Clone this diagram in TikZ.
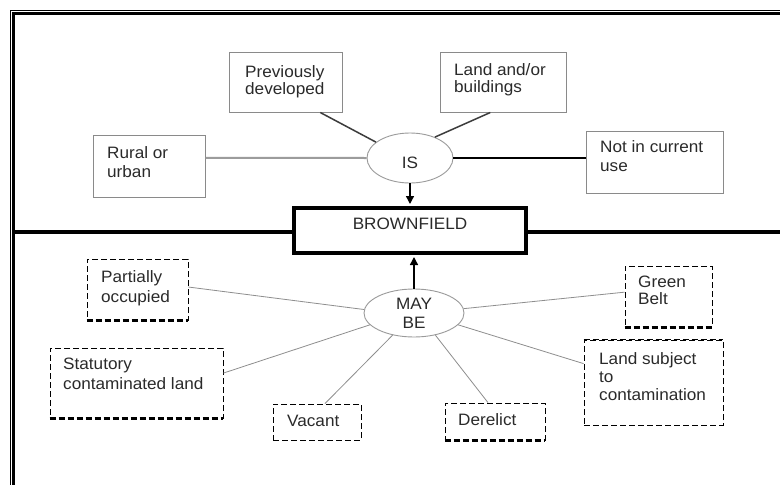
\documentclass[tikz,border=0pt]{standalone}
\usepackage{fontspec}
\setmainfont{Liberation Sans}[FakeStretch=1.04]
\usetikzlibrary{calc,arrows.meta,shapes.geometric}
\definecolor{txtc}{HTML}{2A2A2A}
\definecolor{boxc}{HTML}{8A8A8A}
\definecolor{ellc}{HTML}{9A9A9A}
\definecolor{rurc}{HTML}{9C9C9C}
\definecolor{darkc}{HTML}{3C3C3C}
\definecolor{thinc}{HTML}{8E8E8E}
\begin{document}
\begin{tikzpicture}[x=1pt,y=-1pt,
  txt/.style={anchor=north west, inner sep=0pt, align=left, text=txtc, font=\fontsize{16.5}{#1}\selectfont},
  txt/.default=17,
  solidbox/.style={draw=boxc, line width=1pt, inner sep=0pt},
  dashbox/.style={draw=black, line width=0.9pt, dash pattern=on 6pt off 3pt, inner sep=0pt},
  dashbottom/.style={draw=black, line width=2.4pt, dash pattern=on 6pt off 3pt},
  ellnode/.style={ellipse, draw=ellc, line width=0.9pt, inner sep=0pt, text=txtc},
  rurline/.style={draw=rurc, line width=2pt},
  darkline/.style={draw=darkc, line width=1.5pt},
  blackline/.style={draw=black, line width=1.3pt},
  thinline/.style={draw=thinc, line width=0.8pt},
  arr/.style={draw=black, line width=1.4pt, -{Triangle[length=8pt,width=8pt]}, shorten >=2pt}
]
\useasboundingbox (0,0) rectangle (780,485);
\fill[white] (0,0) rectangle (780,485);

% frame
\draw[line width=0.8pt] (10,485) -- (10,10) -- (780,10);
\draw[line width=2.6pt] (13.3,485) -- (13.3,13.3) -- (780,13.3);

% top boxes
\node[solidbox, minimum width=113pt, minimum height=60pt] (pd) at (285.5,82) {};
\node[txt] (pdt) at (245,65) {Previously\\developed};
\node[solidbox, minimum width=126pt, minimum height=60pt] (lb) at (503,82) {};
\node[txt] (lbt) at (454,63) {Land and/or\\buildings};
\node[solidbox, minimum width=112pt, minimum height=62pt] (ru) at (149,166) {};
\node[txt=19] (rut) at (107,146) {Rural or\\urban};
\node[solidbox, minimum width=137pt, minimum height=62pt] (nc) at (654.5,162) {};
\node[txt=19] (nct) at (600,140) {Not in current\\use};
\node[ellnode, minimum width=86pt, minimum height=50pt, text height=21.5pt, font=\fontsize{16.5}{18}\selectfont] (is) at (410,158) {IS};

% brownfield
\node[draw=black, line width=4pt, minimum width=232pt, minimum height=45pt, inner sep=0pt] (bf) at (410,230.5) {};
\node[anchor=base, inner sep=0pt, text=txtc, font=\fontsize{16.5}{18}\selectfont] (bft) at (410,229) {BROWNFIELD};
\coordinate (ml) at (14,232);
\coordinate (mr) at (780,232);
\draw[line width=4pt] (ml) -- (ml -| bf.west);
\draw[line width=4pt] (mr -| bf.east) -- (mr);

% may be
\node[ellnode, minimum width=100pt, minimum height=48pt, align=center, font=\fontsize{16.5}{19}\selectfont] (may) at (414,313) {MAY\\BE};

% dashed boxes
\node[dashbox, minimum width=101pt, minimum height=61pt] (po) at (137.5,289.5) {};
\draw[dashbottom] (po.south west) -- (po.south east);
\node[txt=20] (pot) at (101,270) {Partially\\occupied};
\node[dashbox, minimum width=173pt, minimum height=70pt] (sc) at (136.5,383) {};
\draw[dashbottom] (sc.south west) -- (sc.south east);
\node[txt=20] (sct) at (63,358) {Statutory\\contaminated land};
\node[dashbox, minimum width=88pt, minimum height=36pt] (va) at (317,422) {};
\node[txt] (vat) at (287,415) {Vacant};
\node[dashbox, minimum width=87pt, minimum height=61pt] (gb) at (668.5,296.5) {};
\draw[dashbottom] (gb.south west) -- (gb.south east);
\node[txt] (gbt) at (638,276) {Green\\Belt};
\node[dashbox, minimum width=139pt, minimum height=85pt] (ls) at (653.5,382.5) {};
\draw[dashbottom, line width=1.4pt] (ls.north west) -- (ls.north east);
\node[txt=18] (lst) at (599,352) {Land subject\\to\\contamination};
\node[dashbox, minimum width=100pt, minimum height=37pt] (de) at (495,421.5) {};
\draw[dashbottom] (de.south west) -- (de.south east);
\node[txt] (det) at (458,413) {Derelict};

% connectors (IS)
\draw[rurline] ($(ru.north east)!0.37!(ru.south east)$) -- (is.west);
\draw[darkline] ($(pd.south west)!0.805!(pd.south east)$) -- (is.155);
\draw[darkline] ($(lb.south west)!0.4!(lb.south east)$) -- (is.40);
\draw[blackline] (is.east) -- (is.east -| nc.west);
\draw[arr] (is.south) -- (bf.north);

% connectors (MAY BE)
\draw[arr] (may.north) -- (may.north |- bf.south);
\draw[thinline] ($(po.north east)!0.46!(po.south east)$) -- (may.176);
\draw[thinline] ($(sc.north east)!0.36!(sc.south east)$) -- (may.195);
\draw[thinline] ($(va.north west)!0.59!(va.north east)$) -- (may.226);
\draw[thinline] ($(de.north west)!0.43!(de.north east)$) -- (may.314);
\draw[thinline] ($(ls.north west)!0.28!(ls.south west)$) -- (may.345);
\draw[thinline] ($(gb.north west)!0.43!(gb.south west)$) -- (may.5);
\end{tikzpicture}
\end{document}
